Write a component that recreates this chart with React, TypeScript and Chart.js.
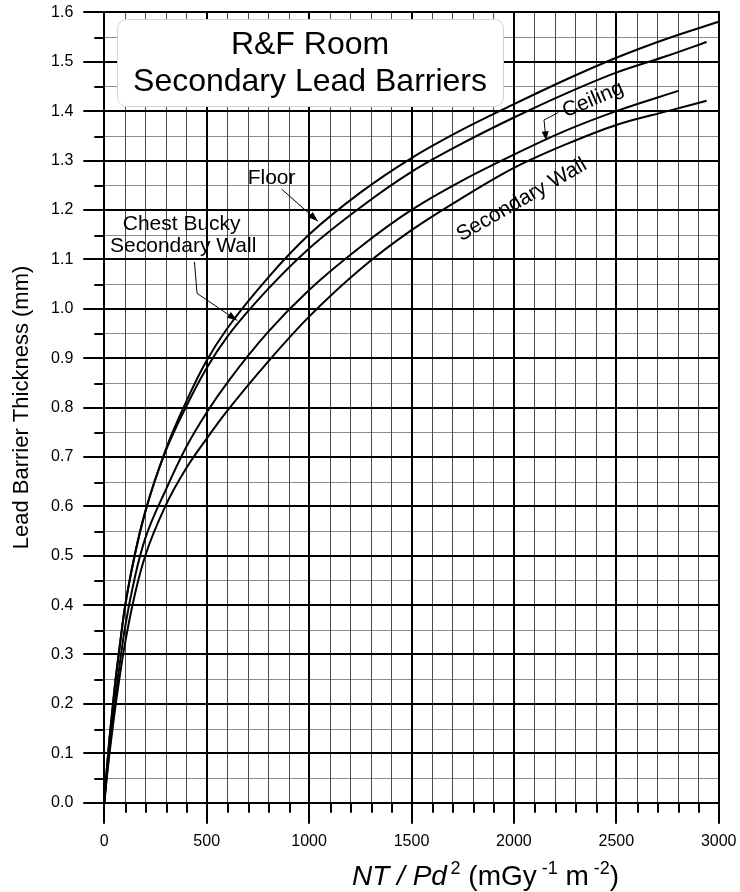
import React, { useEffect, useRef } from 'react';
import { Chart, registerables } from 'chart.js';

Chart.register(...registerables);

const FONT = '"Liberation Sans", Arial, Helvetica, sans-serif';

// Axis ranges and tick steps
const X_MIN = 0;
const X_MAX = 3000;
const X_MAJOR = 500;
const X_MINOR = 100;
const Y_MIN = 0;
const Y_MAX = 1.6;
const Y_MAJOR = 0.1;
const Y_MINOR = 0.05;

// Floor
const floorNT = [0, 10, 25, 50, 75, 100, 150, 200, 300, 400, 500, 600, 800, 1000, 1250, 1500, 1750, 2000, 2250, 2500, 2750, 3000];
const floorPb = [0, 0.057, 0.128, 0.23, 0.315, 0.393, 0.503, 0.588, 0.715, 0.812, 0.895, 0.96, 1.063, 1.15, 1.235, 1.305, 1.363, 1.414, 1.463, 1.508, 1.547, 1.581];
// Chest Bucky Secondary Wall
const chestNT = [0, 10, 25, 50, 75, 100, 150, 200, 300, 400, 500, 600, 800, 1000, 1250, 1500, 1750, 2000, 2250, 2500, 2750, 2941];
const chestPb = [0, 0.058, 0.13, 0.232, 0.317, 0.395, 0.505, 0.59, 0.712, 0.802, 0.88, 0.943, 1.04, 1.122, 1.205, 1.277, 1.335, 1.387, 1.435, 1.478, 1.512, 1.54];
// Ceiling
const ceilingNT = [0, 10, 25, 50, 75, 100, 150, 200, 300, 400, 500, 600, 800, 1000, 1250, 1500, 1750, 2000, 2250, 2500, 2803];
const ceilingPb = [0, 0.046, 0.108, 0.2, 0.28, 0.352, 0.458, 0.535, 0.633, 0.72, 0.79, 0.85, 0.953, 1.038, 1.125, 1.2, 1.26, 1.312, 1.36, 1.4, 1.441];
// Secondary Wall
const wallNT = [0, 10, 25, 50, 75, 100, 150, 200, 300, 400, 500, 600, 800, 1000, 1250, 1500, 1750, 2000, 2250, 2500, 2750, 2941];
const wallPb = [0, 0.042, 0.099, 0.182, 0.255, 0.32, 0.423, 0.5, 0.602, 0.677, 0.737, 0.793, 0.893, 0.984, 1.08, 1.159, 1.225, 1.285, 1.332, 1.372, 1.4, 1.421];

const titleLines = ['R&F Room', 'Secondary Lead Barriers'];

const pts = (xs: number[], ys: number[]) => xs.map((x, i) => ({ x, y: ys[i] }));

function arrowPath(ctx: CanvasRenderingContext2D, p: number[][], headLen = 10, headW = 3.5) {
  ctx.beginPath();
  ctx.moveTo(p[0][0], p[0][1]);
  for (let i = 1; i < p.length; i++) ctx.lineTo(p[i][0], p[i][1]);
  ctx.stroke();
  const [x1, y1] = p[p.length - 2];
  const [x2, y2] = p[p.length - 1];
  const ang = Math.atan2(y2 - y1, x2 - x1);
  const bx = x2 - headLen * Math.cos(ang);
  const by = y2 - headLen * Math.sin(ang);
  ctx.beginPath();
  ctx.moveTo(x2, y2);
  ctx.lineTo(bx + headW * Math.sin(ang), by - headW * Math.cos(ang));
  ctx.lineTo(bx - headW * Math.sin(ang), by + headW * Math.cos(ang));
  ctx.closePath();
  ctx.fill();
}

const paperPlugin = {
  id: 'paper',
  beforeDatasetsDraw(chart: any) {
    const { ctx, chartArea: a } = chart;
    const xs = chart.scales.x;
    const ys = chart.scales.y;
    ctx.save();
    // minor horizontals
    const nYMinor = Math.round((Y_MAX - Y_MIN) / Y_MINOR);
    for (let j = 1; j < nYMinor; j += 2) {
      const p = Math.round(ys.getPixelForValue(Y_MIN + j * Y_MINOR)) + 0.5;
      ctx.lineWidth = 1;
      ctx.strokeStyle = '#8c8c8c';
      ctx.beginPath();
      ctx.moveTo(a.left, p);
      ctx.lineTo(a.right, p);
      ctx.stroke();
      ctx.strokeStyle = '#000';
      ctx.lineWidth = 2;
      ctx.beginPath();
      ctx.moveTo(a.left - 10, Math.round(p));
      ctx.lineTo(a.left, Math.round(p));
      ctx.stroke();
    }
    // minor verticals
    const nXMinor = Math.round((X_MAX - X_MIN) / X_MINOR);
    for (let i = 1; i < nXMinor; i++) {
      const v = X_MIN + i * X_MINOR;
      if (v % X_MAJOR === 0) continue;
      const p = Math.round(xs.getPixelForValue(v)) + 0.5;
      ctx.lineWidth = 1;
      ctx.strokeStyle = '#4a4a4a';
      ctx.beginPath();
      ctx.moveTo(p, a.top);
      ctx.lineTo(p, a.bottom);
      ctx.stroke();
      ctx.strokeStyle = '#000';
      ctx.lineWidth = 2;
      ctx.beginPath();
      ctx.moveTo(Math.round(p), a.bottom);
      ctx.lineTo(Math.round(p), a.bottom + 10);
      ctx.stroke();
    }
    // major lines
    ctx.strokeStyle = '#000';
    ctx.lineWidth = 2;
    const nYMajor = Math.round((Y_MAX - Y_MIN) / Y_MAJOR);
    for (let j = 0; j <= nYMajor; j++) {
      const p = Math.round(ys.getPixelForValue(Y_MIN + j * Y_MAJOR));
      ctx.beginPath();
      ctx.moveTo(a.left - 21, p);
      ctx.lineTo(a.right + 1, p);
      ctx.stroke();
    }
    const nXMajor = Math.round((X_MAX - X_MIN) / X_MAJOR);
    for (let i = 0; i <= nXMajor; i++) {
      const p = Math.round(xs.getPixelForValue(X_MIN + i * X_MAJOR));
      ctx.beginPath();
      ctx.moveTo(p, a.top - 1);
      ctx.lineTo(p, a.bottom + 21);
      ctx.stroke();
    }
    // title box
    const bx0 = xs.getPixelForValue(62);
    const bx1 = xs.getPixelForValue(1947);
    const by0 = ys.getPixelForValue(1.587);
    const by1 = ys.getPixelForValue(1.411);
    ctx.beginPath();
    ctx.roundRect(Math.round(bx0) + 0.5, Math.round(by0) + 0.5, Math.round(bx1 - bx0), Math.round(by1 - by0), 9);
    ctx.fillStyle = '#fff';
    ctx.fill();
    ctx.lineWidth = 1;
    ctx.strokeStyle = '#d4d4d4';
    ctx.stroke();
    ctx.fillStyle = '#000';
    ctx.font = `32px ${FONT}`;
    ctx.textAlign = 'center';
    ctx.textBaseline = 'alphabetic';
    const tcx = (bx0 + bx1) / 2;
    ctx.fillText(titleLines[0], tcx, ys.getPixelForValue(1.515));
    ctx.fillText(titleLines[1], tcx, ys.getPixelForValue(1.441));
    ctx.restore();
  },
  afterDatasetsDraw(chart: any) {
    const { ctx } = chart;
    const xs = chart.scales.x;
    const ys = chart.scales.y;
    const P = (x: number, y: number) => [xs.getPixelForValue(x), ys.getPixelForValue(y)];
    ctx.save();
    ctx.fillStyle = '#000';
    ctx.strokeStyle = '#000';
    ctx.lineWidth = 1;
    ctx.font = `21px ${FONT}`;
    ctx.textBaseline = 'middle';
    ctx.textAlign = 'left';
    // Floor
    let [tx, ty] = P(700, 1.264);
    ctx.fillText('Floor', tx, ty);
    arrowPath(ctx, [P(866, 1.242), P(1043, 1.177)]);
    // Chest Bucky
    [tx, ty] = P(90, 1.171);
    ctx.fillText('Chest Bucky', tx, ty);
    [tx, ty] = P(28, 1.1255);
    ctx.fillText('Secondary Wall', tx, ty);
    arrowPath(ctx, [P(440, 1.095), P(453, 1.031), P(649, 0.976)]);
    // Ceiling
    ctx.textAlign = 'center';
    [tx, ty] = P(2386, 1.423);
    ctx.save();
    ctx.translate(tx, ty);
    ctx.rotate((-23 * Math.PI) / 180);
    ctx.fillText('Ceiling', 0, 0);
    ctx.restore();
    arrowPath(ctx, [P(2217, 1.397), P(2147, 1.382), P(2157, 1.341)], 9, 3.5);
    // Secondary Wall
    [tx, ty] = P(2038, 1.22);
    ctx.save();
    ctx.translate(tx, ty);
    ctx.rotate((-30 * Math.PI) / 180);
    ctx.fillText('Secondary Wall', 0, 0);
    ctx.restore();
    ctx.restore();
  },
  afterDraw(chart: any) {
    const { ctx } = chart;
    ctx.save();
    ctx.fillStyle = '#000';
    ctx.textAlign = 'left';
    ctx.textBaseline = 'alphabetic';
    let cx = 352;
    const base = 885;
    const seg = (t: string, font: string, dy = 0) => {
      ctx.font = font;
      ctx.fillText(t, cx, base + dy);
      cx += ctx.measureText(t).width;
    };
    seg('NT / Pd', `italic 28px ${FONT}`);
    seg('\u2009' + '2', `18px ${FONT}`, -11);
    seg(' (mGy', `28px ${FONT}`);
    seg(' -1', `18px ${FONT}`, -11);
    seg(' m', `28px ${FONT}`);
    seg(' -2', `18px ${FONT}`, -11);
    seg(')', `28px ${FONT}`);
    ctx.restore();
  },
};

const zeroPad = (s: any) => {
  s.paddingTop = 0;
  s.paddingBottom = 0;
  s.paddingLeft = 0;
  s.paddingRight = 0;
};

export default function App() {
  const ref = useRef<HTMLCanvasElement>(null);
  useEffect(() => {
    const canvas = ref.current;
    if (!canvas) return;
    const line = (label: string, data: { x: number; y: number }[]) => ({
      label,
      data,
      borderColor: '#000',
      backgroundColor: '#000',
      borderWidth: 2,
      pointRadius: 0,
      fill: false,
      cubicInterpolationMode: 'monotone' as const,
    });
    const chart = new Chart(canvas, {
      type: 'line',
      data: {
        datasets: [
          line('Floor', pts(floorNT, floorPb)),
          line('Chest Bucky Secondary Wall', pts(chestNT, chestPb)),
          line('Ceiling', pts(ceilingNT, ceilingPb)),
          line('Secondary Wall', pts(wallNT, wallPb)),
        ],
      },
      options: {
        animation: false,
        responsive: false,
        devicePixelRatio: 1,
        layout: { padding: { top: 12.3, right: 21.3, left: 0, bottom: 0 } },
        plugins: { legend: { display: false }, tooltip: { enabled: false }, title: { display: false } },
        scales: {
          x: {
            type: 'linear',
            min: X_MIN,
            max: X_MAX,
            afterFit: (s: any) => {
              s.height = 89.3;
              zeroPad(s);
            },
            ticks: {
              stepSize: X_MAJOR,
              color: '#000',
              font: { family: FONT, size: 16 },
              padding: 8,
              maxRotation: 0,
              autoSkip: false,
              callback: (v: any) => String(Math.round(Number(v))),
            },
            grid: { display: true, drawOnChartArea: false, drawTicks: true, tickLength: 21, color: 'rgba(0,0,0,0)' },
            border: { display: false },
          },
          y: {
            type: 'linear',
            min: Y_MIN,
            max: Y_MAX,
            afterFit: (s: any) => {
              s.width = 104.3;
              zeroPad(s);
            },
            ticks: {
              stepSize: Y_MAJOR,
              color: '#000',
              font: { family: FONT, size: 16 },
              padding: 10,
              autoSkip: false,
              callback: (v: any) => Number(v).toFixed(1),
            },
            grid: { display: true, drawOnChartArea: false, drawTicks: true, tickLength: 21, color: 'rgba(0,0,0,0)' },
            border: { display: false },
            title: {
              display: true,
              text: 'Lead Barrier Thickness (mm)',
              color: '#000',
              font: { family: FONT, size: 22 },
              padding: { top: 9, bottom: 0 },
            },
          },
        },
      },
      plugins: [paperPlugin],
    });
    return () => chart.destroy();
  }, []);
  return (
    <div style={{ position: 'absolute', left: 0, top: 0, width: 740, height: 892, background: '#fff' }}>
      <canvas ref={ref} width={740} height={892} style={{ display: 'block', width: 740, height: 892 }} />
    </div>
  );
}
